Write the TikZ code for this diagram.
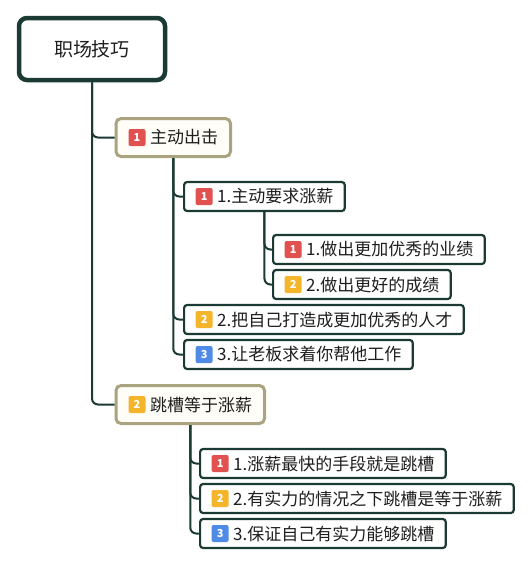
\documentclass[tikz,border=0pt]{standalone}
\usepackage{fontspec}
\setmainfont{Noto Sans CJK SC}
\usetikzlibrary{positioning}
\definecolor{deep}{HTML}{1B3A34}
\definecolor{khaki}{HTML}{A9A47F}
\definecolor{cream}{HTML}{FEFDF7}
\definecolor{ink}{HTML}{1E1E1E}
\definecolor{tagred}{HTML}{E0514F}
\definecolor{tagyellow}{HTML}{F4B52B}
\definecolor{tagblue}{HTML}{4F8BE6}
\tikzset{
  rootbox/.style={draw=deep, line width=4.5pt, rounded corners=8pt, fill=white,
    minimum width=146pt, minimum height=62pt, text=ink, font=\fontsize{19}{21}\selectfont},
  topicbox/.style={draw=khaki, line width=3pt, rounded corners=5pt, fill=cream, anchor=west,
    minimum height=38pt, inner xsep=12.5pt, inner ysep=0pt, text=ink, font=\fontsize{17}{19}\selectfont},
  subbox/.style={draw=deep, line width=2.2pt, rounded corners=3pt, fill=white, anchor=west,
    minimum height=29pt, inner xsep=11.5pt, inner ysep=0pt, text=ink, font=\fontsize{17}{19}\selectfont},
  link/.style={draw=deep, line width=2pt, rounded corners=6pt},
}
\newcommand{\tagno}[2]{\tikz[baseline={([yshift=-2.5pt]tg.base)}]\node (tg) [fill=#1, rounded corners=2pt,
  inner sep=0pt, minimum width=17pt, minimum height=17pt, text=white,
  font=\fontsize{11}{11}\selectfont\bfseries] {#2};\hspace{4.5pt}}

\begin{document}
\begin{tikzpicture}[x=1pt,y=-1pt]
    \useasboundingbox[fill=white] (0,0) rectangle (530,566);
    \node[rootbox] (root) at (92,49) {职场技巧};
    \node[topicbox] (act) at (114.5,137.5) {\tagno{tagred}{1}主动出击};
    \node[topicbox] (hop) at (114.5,404.5) {\tagno{tagyellow}{2}跳槽等于涨薪};
    \node[subbox] (ask) at (183,196.5) {\tagno{tagred}{1}1.主动要求涨薪};
    \node[subbox] (perf) at (272,249.5) {\tagno{tagred}{1}1.做出更加优秀的业绩};
    \node[subbox] (score) at (272,284.5) {\tagno{tagyellow}{2}2.做出更好的成绩};
    \node[subbox] (talent) at (183,319.5) {\tagno{tagyellow}{2}2.把自己打造成更加优秀的人才};
    \node[subbox] (boss) at (183,354.5) {\tagno{tagblue}{3}3.让老板求着你帮他工作};
    \node[subbox] (fast) at (199,463.5) {\tagno{tagred}{1}1.涨薪最快的手段就是跳槽};
    \node[subbox] (able) at (199,498.5) {\tagno{tagyellow}{2}2.有实力的情况之下跳槽是等于涨薪};
    \node[subbox] (sure) at (199,533.5) {\tagno{tagblue}{3}3.保证自己有实力能够跳槽};
    \draw[link] (root.south) |- (act.west);
    \draw[link] (root.south) |- (hop.west);
    \draw[link] (act.south) |- (ask.west);
    \draw[link] (act.south) |- (talent.west);
    \draw[link] (act.south) |- (boss.west);
    \draw[link] (ask.south) |- (perf.west);
    \draw[link] (ask.south) |- (score.west);
    \draw[link] (hop.south) |- (fast.west);
    \draw[link] (hop.south) |- (able.west);
    \draw[link] (hop.south) |- (sure.west);
\end{tikzpicture}
\end{document}
